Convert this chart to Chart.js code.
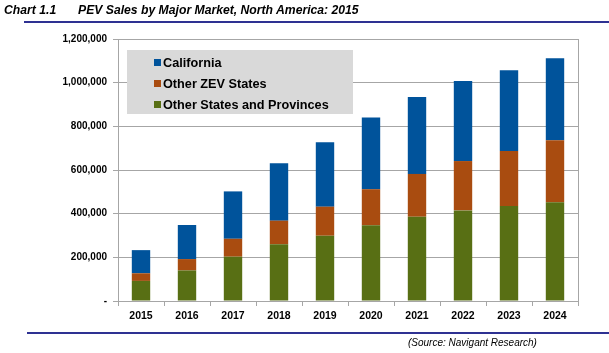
<!DOCTYPE html>
<html>
<head>
<meta charset="utf-8">
<script src="https://cdn.jsdelivr.net/npm/chart.js@4"></script>
<style>
  body { margin: 0; background: #fff; font-family: "Liberation Sans", Arial, sans-serif; }
  #wrap { position: relative; width: 609px; height: 353px; overflow: hidden; }
  #myChart { position: absolute; left: 0; top: 0; }
  .head { position: absolute; top: 3px; font-size: 12.2px; font-weight: bold; font-style: italic; color: #000; }
  .rule { position: absolute; height: 2px; background: #2e3192; right: 0; }
  .source { position: absolute; left: 408px; top: 337px; font-size: 10px; font-style: italic; color: #000; }
</style>
</head>
<body>
<div id="wrap">
  <canvas id="myChart" width="609" height="353"></canvas>
  <div class="head" style="left:4px">Chart 1.1</div>
  <div class="head" style="left:78px">PEV Sales by Major Market, North America: 2015</div>
  <div class="rule" style="left:24px; top:21px"></div>
  <div class="rule" style="left:27px; top:332px"></div>
  <div class="source">(Source: Navigant Research)</div>
</div>
<script>
const years = ['2015', '2016', '2017', '2018', '2019', '2020', '2021', '2022', '2023', '2024'];
const otherStates = [92000, 140000, 203000, 260000, 299000, 347000, 386000, 415000, 435000, 452000];
const otherZev = [35000, 52000, 82000, 108000, 133000, 165000, 196000, 226000, 252000, 284000];
const california = [106000, 156000, 217000, 263000, 295000, 328000, 352000, 367000, 370000, 376000];
const yTicks = [0, 200000, 400000, 600000, 800000, 1000000, 1200000];

const gridColor = '#a6a6a6';

// legend drawn inside the plot area, on a grey box
const boxLegend = {
    id: 'boxLegend',
    afterDatasetsDraw(chart) {
        const ctx = chart.ctx;
        const a = chart.chartArea;
        const x = a.left + 9, y = a.top + 11;
        ctx.save();
        ctx.fillStyle = '#d9d9d9';
        ctx.fillRect(x, y, 226, 64);
        ctx.font = 'bold 12.7px "Liberation Sans", Arial, sans-serif';
        ctx.textBaseline = 'middle';
        const order = [2, 1, 0];
        order.forEach((di, i) => {
            const ds = chart.data.datasets[di];
            const cy = y + 12 + i * 21;
            ctx.fillStyle = ds.backgroundColor;
            ctx.fillRect(x + 27, cy - 3, 7, 7);
            ctx.fillStyle = '#000';
            ctx.fillText(ds.label, x + 36, cy + 1);
        });
        // right border of the plot
        ctx.strokeStyle = gridColor;
        ctx.lineWidth = 1;
        ctx.beginPath();
        ctx.moveTo(Math.round(a.right) + 0.5, a.top);
        ctx.lineTo(Math.round(a.right) + 0.5, a.bottom + 5);
        ctx.stroke();
        ctx.restore();
    }
};

const ctx = document.getElementById('myChart').getContext('2d');
new Chart(ctx, {
    type: 'bar',
    data: {
        labels: years,
        datasets: [
            { label: 'Other States and Provinces', data: otherStates, backgroundColor: '#586f14' },
            { label: 'Other ZEV States', data: otherZev, backgroundColor: '#a94c10' },
            { label: 'California', data: california, backgroundColor: '#00539b' }
        ]
    },
    options: {
        responsive: false,
        animation: false,
        layout: { padding: { left: 0, top: 39, right: 31, bottom: 0 } },
        datasets: { bar: { categoryPercentage: 1, barPercentage: 0.4 } },
        plugins: { legend: { display: false }, tooltip: { enabled: false } },
        scales: {
            x: {
                stacked: true,
                afterFit: s => { s.height = 52; },
                grid: { offset: true, drawOnChartArea: false, color: gridColor, tickLength: 5 },
                border: { color: gridColor },
                ticks: { color: '#000', padding: 4, font: { family: '"Liberation Sans", Arial', size: 10.5, weight: 'bold' } }
            },
            y: {
                stacked: true,
                min: 0,
                max: 1200000,
                afterFit: s => { s.width = 118; },
                afterBuildTicks: s => { s.ticks = yTicks.map(v => ({ value: v })); },
                grid: { color: gridColor, tickLength: 5 },
                border: { color: gridColor },
                ticks: {
                    color: '#000',
                    padding: 6,
                    font: { family: '"Liberation Sans", Arial', size: 10, weight: 'bold' },
                    callback: v => v === 0 ? '-' : v.toLocaleString('en-US')
                }
            }
        }
    },
    plugins: [boxLegend]
});
</script>
</body>
</html>
